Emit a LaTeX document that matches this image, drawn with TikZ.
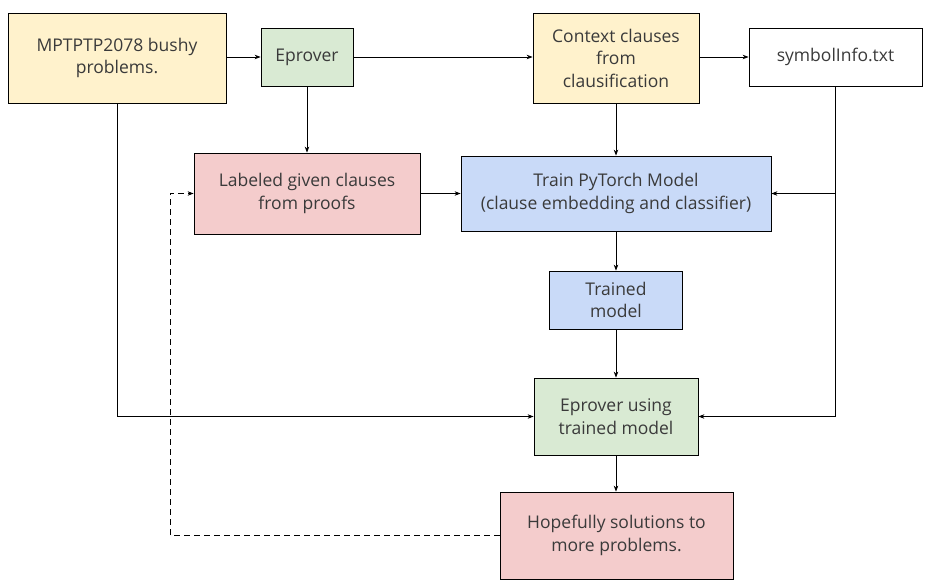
\documentclass[tikz,border=0pt]{standalone}
\usepackage{fontspec}
\setmainfont{Open Sans}
\usetikzlibrary{arrows.meta,calc}
\definecolor{cyel}{HTML}{FFF2CC}
\definecolor{cgrn}{HTML}{D9EAD3}
\definecolor{cred}{HTML}{F4CCCC}
\definecolor{cblu}{HTML}{C9DAF8}
\definecolor{ctxt}{HTML}{3A3A3A}
\tikzset{
  box/.style={draw=black, line width=0.8pt, text=ctxt, align=center, inner sep=0pt,
    font=\fontsize{17.5}{22.5}\selectfont},
  conn/.style={draw=black, line width=0.8pt, -{Stealth[length=6pt,width=4.5pt]}},
  plainline/.style={draw=black, line width=0.8pt},
}
\begin{document}
\begin{tikzpicture}[x=1pt,y=-1pt]
\useasboundingbox (0,0) rectangle (928,584);
\node[box, fill=cyel, minimum width=218pt, minimum height=90pt] (mpt) at (117,58) {MPTPTP2078 bushy\\problems.};
\node[box, fill=cgrn, minimum width=92pt, minimum height=58pt] (ep) at (307,57) {Eprover};
\node[box, fill=cyel, minimum width=166pt, minimum height=90pt] (ctx) at (616,58) {Context clauses\\from\\clausification};
\node[box, fill=white, minimum width=173pt, minimum height=58pt] (sym) at (835.5,57) {symbolInfo.txt};
\node[box, fill=cred, minimum width=226pt, minimum height=81pt] (lab) at (307,193.5) {Labeled given clauses\\from proofs};
\node[box, fill=cblu, minimum width=310pt, minimum height=75pt] (train) at (616,193.5) {Train PyTorch Model\\(clause embedding and classifier)};
\node[box, fill=cblu, minimum width=133pt, minimum height=58pt] (tm) at (616,300) {Trained\\model};
\node[box, fill=cgrn, minimum width=164pt, minimum height=77pt] (epu) at (616,416.5) {Eprover using\\trained model};
\node[box, fill=cred, minimum width=233pt, minimum height=87pt] (hop) at (616.5,535.5) {Hopefully solutions to\\more problems.};

\coordinate (symdown) at (sym.south |- epu.east);
\coordinate (symbranch) at (sym.south |- train.east);
\coordinate (mptdown) at (mpt.south |- epu.west);
\coordinate (dashcorner1) at (170,535.5);
\coordinate (dashcorner2) at (170,193.5);

\draw[conn] (mpt.east |- ep.west) -- (ep.west);
\draw[conn] (ep.east) -- (ep.east -| ctx.west);
\draw[conn] (ctx.east |- sym.west) -- (sym.west);
\draw[conn] (ep.south) -- (lab.north);
\draw[conn] (ctx.south) -- (train.north);
\draw[conn] (lab.east) -- (lab.east -| train.west);
\draw[plainline] (sym.south) -- (symdown);
\draw[conn] (symbranch) -- (train.east);
\draw[conn] (symdown) -- (epu.east);
\draw[conn] (mpt.south) -- (mptdown) -- (epu.west);
\draw[conn] (train.south) -- (tm.north);
\draw[conn] (tm.south) -- (epu.north);
\draw[conn] (epu.south) -- (epu.south |- hop.north);
\draw[conn, dashed, dash pattern=on 6pt off 4pt] (hop.west) -- (dashcorner1) -- (dashcorner2) -- (lab.west);
\end{tikzpicture}
\end{document}
